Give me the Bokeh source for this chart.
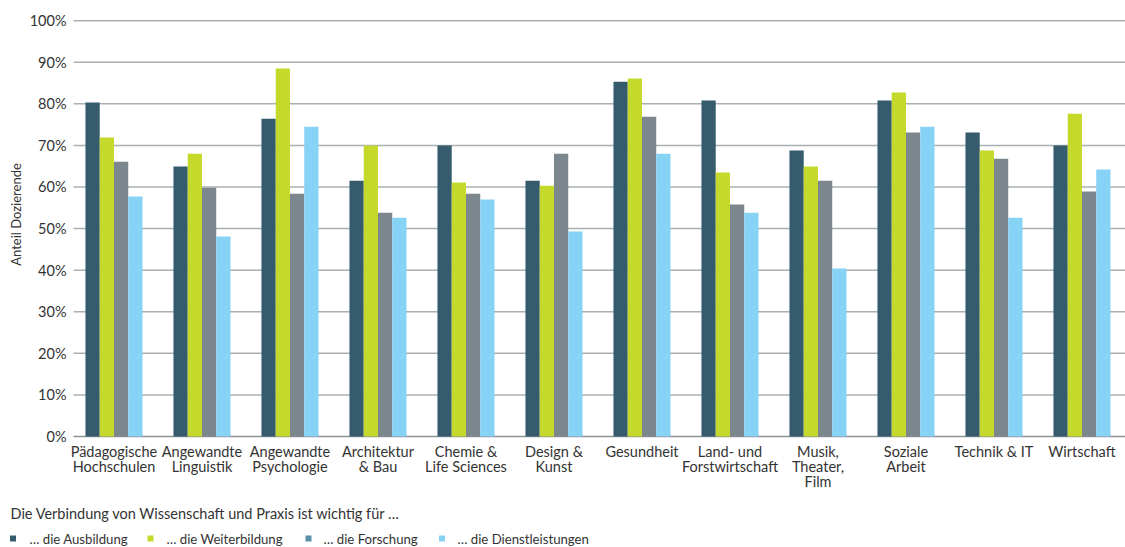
import math
from bokeh.plotting import figure
from bokeh.models import Range1d
from bokeh.core.properties import value
from bokeh.embed import file_html
from bokeh.resources import INLINE

# Fachbereiche und Anteile (in %) je Zweck
categories = [
    "Pädagogische\nHochschulen", "Angewandte\nLinguistik", "Angewandte\nPsychologie",
    "Architektur\n& Bau", "Chemie &\nLife Sciences", "Design &\nKunst", "Gesundheit",
    "Land- und\nForstwirtschaft", "Musik,\nTheater,\nFilm", "Soziale\nArbeit",
    "Technik & IT", "Wirtschaft",
]
ausbildung = [80.3, 64.9, 76.4, 61.5, 70.0, 61.5, 85.3, 80.8, 68.8, 80.8, 73.1, 70.0]
weiterbildung = [71.9, 68.0, 88.5, 70.0, 61.1, 60.3, 86.1, 63.5, 64.9, 82.7, 68.8, 77.6]
forschung = [66.1, 59.8, 58.4, 53.8, 58.4, 68.0, 76.9, 55.8, 61.5, 73.1, 66.8, 58.9]
dienstleistungen = [57.7, 48.1, 74.5, 52.6, 57.0, 49.3, 68.0, 53.8, 40.4, 74.5, 52.6, 64.2]

series_names = ["… die Ausbildung", "… die Weiterbildung", "… die Forschung",
                "… die Dienstleistungen"]
y_ticks = [0, 10, 20, 30, 40, 50, 60, 70, 80, 90, 100]
legend_title = "Die Verbindung von Wissenschaft und Praxis ist wichtig für …"
y_title = "Anteil Dozierende"

bar_colors = ["#365b6d", "#c5d92b", "#7c878d", "#86d3f5"]
legend_colors = ["#365b6d", "#c5d92b", "#5b8fa6", "#86d3f5"]
GRID = "#a9b0b4"
BASE = "#8a9397"
TEXT = "#333333"
FONT = value("Lato")

# Zeichenfläche: die ganze Seite ist der Plotbereich, Achsen werden selbst gezeichnet
W, H = 1125, 547
PX_X = 88.0                 # Pixel je Fachbereich
PX_Y = 420.0 / 101.0        # Pixel je Prozentpunkt
AXIS_LEFT_PX, BASE_PX = 73, 436
x_left = -0.46                                  # linker Rand der Rasterlinien
x_start = x_left - AXIS_LEFT_PX / PX_X
x_end = x_start + W / PX_X
y_start = -(H - BASE_PX) / PX_Y
y_end = BASE_PX / PX_Y


def sx(px):
    """Horizontale Seitenposition in Datenkoordinaten."""
    return x_start + px / PX_X


def sy(px):
    """Vertikale Seitenposition (von oben) in Datenkoordinaten."""
    return y_end - px / PX_Y


p = figure(width=W, height=H, output_backend="svg", toolbar_location=None,
           x_range=Range1d(x_start, x_end), y_range=Range1d(y_start, y_end),
           min_border=0, x_axis_type=None, y_axis_type=None)
p.outline_line_color = None
p.xgrid.visible = False
p.ygrid.visible = False
p.background_fill_color = "white"
p.border_fill_color = "white"

# Rasterlinien und Grundlinie
grid_ticks = y_ticks[1:]
p.segment(x0=[x_left] * len(grid_ticks), x1=[x_end] * len(grid_ticks),
          y0=grid_ticks, y1=grid_ticks, line_color=GRID, line_width=1.5)
p.segment(x0=[x_left], x1=[x_end], y0=[0], y1=[0], line_color=BASE, line_width=1.5)

# Balken, vier je Fachbereich
bw = 0.162
offsets = [-1.5 * bw, -0.5 * bw, 0.5 * bw, 1.5 * bw]
xs = list(range(len(categories)))
for vals, col, off in zip([ausbildung, weiterbildung, forschung, dienstleistungen],
                          bar_colors, offsets):
    p.vbar(x=[x + off for x in xs], top=vals, width=bw, bottom=0,
           fill_color=col, line_color=None)

# Beschriftung der y-Achse
p.text(x=[x_left] * len(y_ticks), y=y_ticks, text=[f"{t}%" for t in y_ticks],
       x_offset=-7, text_align="right", text_baseline="middle",
       text_font=FONT, text_font_size="14.5px", text_color=TEXT)
p.text(x=[sx(15)], y=[sy(214)], text=[y_title], angle=math.pi / 2,
       text_align="center", text_baseline="middle",
       text_font=FONT, text_font_size="13px", text_color=TEXT)

# Beschriftung der Fachbereiche, zeilenweise unter der Grundlinie
lx, ly, ltxt, loff = [], [], [], []
for i, cat in enumerate(categories):
    for j, line in enumerate(cat.split("\n")):
        lx.append(i)
        ly.append(0)
        ltxt.append(line)
        loff.append(15 + 15 * j)
p.text(x=lx, y=ly, text=ltxt, y_offset=loff, text_align="center",
       text_baseline="middle", text_font=FONT, text_font_size="14.5px",
       text_color=TEXT)

# Legende
p.text(x=[sx(10)], y=[sy(513)], text=[legend_title], text_align="left",
       text_baseline="middle", text_font=FONT, text_font_size="14.5px",
       text_color=TEXT)
sq_px = [12.5, 150, 308, 441.5]
lab_px = [29, 166, 323, 457]
p.rect(x=[sx(v) for v in sq_px], y=[sy(538)] * 4, width=6, height=6,
       width_units="screen", height_units="screen",
       fill_color=legend_colors, line_color=None)
p.text(x=[sx(v) for v in lab_px], y=[sy(538)] * 4, text=series_names,
       text_align="left", text_baseline="middle", text_font=FONT,
       text_font_size="13.2px", text_color=TEXT)

open("out.html", "w").write(file_html(p, INLINE))
